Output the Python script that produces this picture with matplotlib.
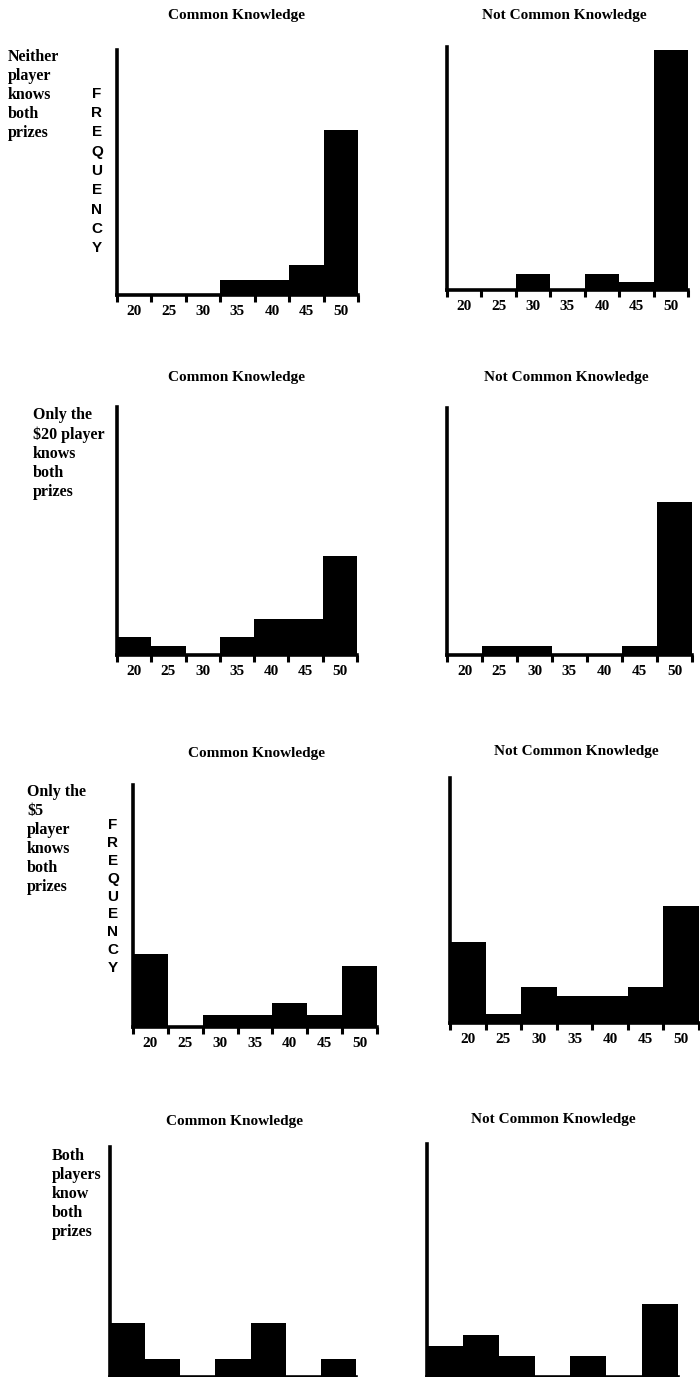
import matplotlib.pyplot as plt

# prize-claim bins ($) and their tick labels
bins = [20, 25, 30, 35, 40, 45, 50]
tick_labels = ["20", "25", "30", "35", "40", "45", "50"]

# frequencies
neither_ck = [0, 0, 0, 1, 1, 2, 11]
neither_nck = [0, 0, 2, 0, 2, 1, 30]
only20_ck = [2, 1, 0, 2, 4, 4, 11]
only20_nck = [0, 1, 1, 0, 0, 1, 17]
only5_ck = [6, 0, 1, 1, 2, 1, 5]
only5_nck = [9, 1, 4, 3, 3, 4, 13]
both_ck = [3, 1, 0, 1, 3, 0, 1]
both_nck = [3, 4, 2, 0, 2, 0, 7]

row_labels = [
    "Neither\nplayer\nknows\nboth\nprizes",
    "Only the\n\\$20 player\nknows\nboth\nprizes",
    "Only the\n\\$5\nplayer\nknows\nboth\nprizes",
    "Both\nplayers\nknow\nboth\nprizes",
]
titles = ["Common Knowledge", "Not Common Knowledge"]

W, H = 700, 1377
fig = plt.figure(figsize=(7, 13.77), dpi=100)
SERIF = "Liberation Serif"


def px_axes(left, top, right, bottom):
    return fig.add_axes([left / W, 1 - bottom / H, (right - left) / W, (bottom - top) / H])


def draw_hist(ax, values, ymax, show_labels=True):
    ax.bar(bins, values, width=5, color="black", align="center", zorder=2)
    ax.set_xlim(17.5, 52.5)
    ax.set_ylim(0, ymax)
    for s in ["top", "right"]:
        ax.spines[s].set_visible(False)
    for s in ["left", "bottom"]:
        ax.spines[s].set_linewidth(2.6)
        ax.spines[s].set_zorder(3)
    ax.set_yticks([])
    edges = [b - 2.5 for b in bins] + [bins[-1] + 2.5]
    ax.set_xticks(edges)
    ax.set_xticklabels([""] * len(edges))
    ax.tick_params(axis="x", which="major", direction="out", length=5, width=2.2)
    ax.set_xticks(bins, minor=True)
    if show_labels:
        ax.set_xticklabels(tick_labels, minor=True, fontsize=11, fontweight="bold", family=SERIF)
    else:
        ax.set_xticklabels([""] * len(bins), minor=True)
    ax.tick_params(axis="x", which="minor", length=0, pad=7)
    ax.patch.set_alpha(0)


# (left, top, right, bottom) in pixels, ymax, data
panels = [
    ((117, 50, 358, 295), 16.3, neither_ck),
    ((447, 47, 688, 290), 30.4, neither_nck),
    ((117, 407, 357, 655), 27.5, only20_ck),
    ((447, 408, 692, 655), 27.4, only20_nck),
    ((133, 785, 377, 1027), 19.8, only5_ck),
    ((450, 778, 699, 1023), 27.2, only5_nck),
    ((110, 1147, 356, 1377), 12.8, both_ck),
    ((427, 1144, 678, 1377), 22.2, both_nck),
]
for i, (rect, ymax, vals) in enumerate(panels):
    ax = px_axes(*rect)
    # the bottom row's axis labels fall below the page edge in the scan
    draw_hist(ax, vals, ymax, show_labels=i < 6)

# panel titles
title_pos = [(236, 15), (564, 15), (236, 378), (566, 377),
             (257, 753), (576, 752), (234, 1121), (553, 1120)]
for i, (x, y) in enumerate(title_pos):
    fig.text(x / W, 1 - y / H, titles[i % 2], ha="center", va="center",
             fontsize=11, fontweight="bold", family=SERIF)

# row labels
label_pos = [(8, 49), (33, 407), (27, 784), (52, 1148)]
for (x, y), txt in zip(label_pos, row_labels):
    fig.text(x / W, 1 - y / H, txt, ha="left", va="top", fontsize=11.5,
             fontweight="bold", family=SERIF, linespacing=1.25)

# stacked FREQUENCY labels
for x, y0, step in [(97, 94, 19.25), (113, 825, 17.9)]:
    for k, ch in enumerate("FREQUENCY"):
        fig.text(x / W, 1 - (y0 + k * step) / H, ch, ha="center", va="center",
                 fontsize=11, fontweight="bold", family="Liberation Sans")

fig.savefig("out.png", dpi=100)
